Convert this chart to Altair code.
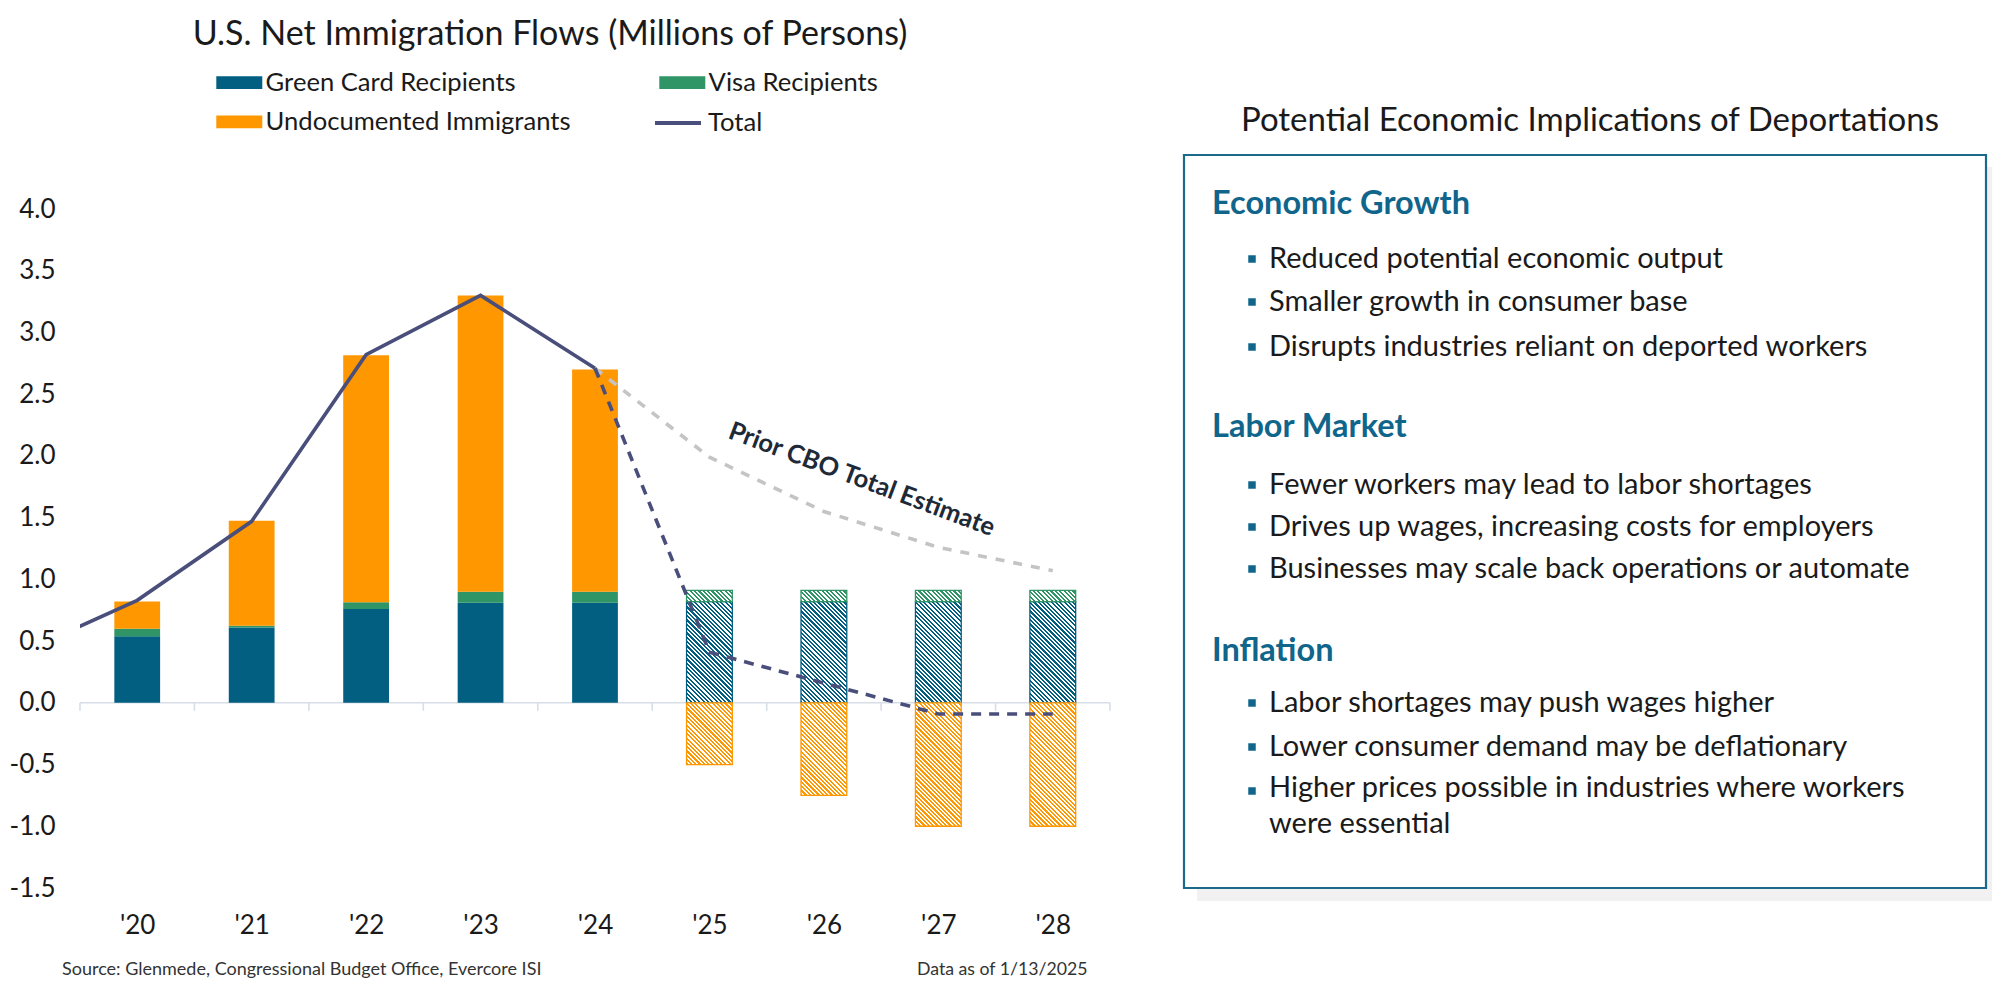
import json
import altair as alt
import pandas as pd

# ---------------- data ----------------
years = ["'20", "'21", "'22", "'23", "'24", "'25", "'26", "'27", "'28"]
green_card = [0.54, 0.61, 0.76, 0.81, 0.81, 0.82, 0.82, 0.82, 0.82]
visa = [0.06, 0.015, 0.055, 0.09, 0.09, 0.09, 0.09, 0.09, 0.09]
undocumented = [0.22, 0.85, 2.00, 2.40, 1.80, -0.50, -0.75, -1.00, -1.00]
projected = [False, False, False, False, False, True, True, True, True]

total_actual_idx = [-1, 0, 1, 2, 3, 4]          # line enters from the left edge
total_actual = [0.41, 0.83, 1.47, 2.82, 3.30, 2.71]
total_proj_idx = [4, 5, 6, 7, 8]
total_projected = [2.71, 0.41, 0.16, -0.09, -0.09]
prior_cbo = [2.71, 1.99, 1.55, 1.26, 1.07]

bar_series = ["Green Card Recipients", "Visa Recipients", "Undocumented Immigrants"]
bar_colors = ["#035f82", "#2f9566", "#fe9700"]
total_name = "Total"
total_color = "#4a4e7b"
cbo_color = "#c4c4c4"
y_ticks = [-1.5, -1.0, -0.5, 0.0, 0.5, 1.0, 1.5, 2.0, 2.5, 3.0, 3.5, 4.0]

chart_title = "U.S. Net Immigration Flows (Millions of Persons)"
annotation = "Prior CBO Total Estimate"
source_note = "Source: Glenmede, Congressional Budget Office, Evercore ISI"
date_note = "Data as of 1/13/2025"

panel_title = "Potential Economic Implications of Deportations"
panel_sections = [
    ("Economic Growth", ["Reduced potential economic output",
                         "Smaller growth in consumer base",
                         "Disrupts industries reliant on deported workers"]),
    ("Labor Market", ["Fewer workers may lead to labor shortages",
                      "Drives up wages, increasing costs for employers",
                      "Businesses may scale back operations or automate"]),
    ("Inflation", ["Labor shortages may push wages higher",
                   "Lower consumer demand may be deflationary",
                   "Higher prices possible in industries where workers\nwere essential"]),
]

# ---------------- layout ----------------
FONT = "Lato"
VIEW_W, VIEW_H = 1030, 679
PAD_L, PAD_T = 72, 201
PAD_R = 1984 - PAD_L - VIEW_W
PAD_B = 970 - PAD_T - VIEW_H
X_DOM = [-0.5, 8.5]
Y_DOM = [-1.5, 4.0]
PX_X = VIEW_W / (X_DOM[1] - X_DOM[0])
PX_Y = VIEW_H / (Y_DOM[1] - Y_DOM[0])
HALF_BAR = 0.2
TEXT = "#1a1a1a"
TEAL = "#10658b"

xs = alt.Scale(domain=X_DOM, nice=False, zero=False)
ys = alt.Scale(domain=Y_DOM, nice=False, zero=False)

y_label_expr = "datum.value < 0 ? '-' + format(-datum.value, '.1f') : format(datum.value, '.1f')"
x_label_expr = json.dumps(years) + "[round(datum.value)]"
x_axis = alt.Axis(values=list(range(len(years))), labelExpr=x_label_expr, title=None,
                  grid=False, domain=False, ticks=False, tickSize=0, labelPadding=37,
                  labelBaseline="middle", labelFont=FONT, labelFontSize=26, labelColor=TEXT)
y_axis = alt.Axis(values=y_ticks, labelExpr=y_label_expr, title=None, grid=False,
                  domain=False, ticks=False, tickSize=0, labelPadding=25, labelFont=FONT,
                  labelFontSize=26, labelColor=TEXT)


def X(field):
    return alt.X(field, scale=xs, axis=x_axis)


def Y(field):
    return alt.Y(field, scale=ys, axis=y_axis)


# ---------------- stacked segments ----------------
rows = []
for i, yr in enumerate(years):
    g, v, u = green_card[i], visa[i], undocumented[i]
    segs = [(bar_series[0], 0.0, g), (bar_series[1], g, g + v)]
    if u >= 0:
        segs.append((bar_series[2], g + v, g + v + u))
    else:
        segs.append((bar_series[2], 0.0, u))
    for name, a, b in segs:
        rows.append({"i": i, "year": yr, "series": name, "y0": a, "y1": b,
                     "x0": i - HALF_BAR, "x1": i + HALF_BAR, "proj": projected[i]})
bars = pd.DataFrame(rows)
solid = bars[~bars["proj"]]
hatched = bars[bars["proj"]]

# legend swatch: 46 x 12.6 px rectangle drawn with a 23px symbol box
fill_legend = alt.Legend(
    orient="none", legendX=135, legendY=-139.5, columns=2, direction="horizontal",
    title=None, labelFont=FONT, labelFontSize=25.6, labelColor=TEXT, labelLimit=0,
    labelOffset=25, symbolType="M-1,-0.55H3V0.55H-1Z", symbolSize=529,
    symbolStrokeWidth=0, symbolOpacity=1, columnPadding=87, rowPadding=12.5,
)
stroke_legend = alt.Legend(
    orient="none", legendX=573, legendY=-111, title=None,
    labelFont=FONT, labelFontSize=25.6, labelColor=TEXT, labelLimit=0, labelOffset=5,
    symbolType="stroke", symbolSize=2116, symbolStrokeWidth=3.8, symbolOpacity=1,
)

solid_layer = alt.Chart(solid).mark_bar(strokeWidth=0).encode(
    x=X("x0:Q"), x2="x1:Q", y=Y("y0:Q"), y2="y1:Q",
    fill=alt.Fill("series:N", scale=alt.Scale(domain=bar_series, range=bar_colors),
                  legend=fill_legend),
)


def hatch(color, w, h, period=4.3, duty=0.5):
    n = max(1, int(round((w + h) / period)))
    stops = []
    for k in range(n):
        a, b, c = k / n, (k + duty) / n, (k + 1) / n
        stops += [{"offset": a, "color": color}, {"offset": b, "color": color},
                  {"offset": b, "color": "#ffffff"}, {"offset": c, "color": "#ffffff"}]
    s = (w + h) / (w * w + h * h)
    return {"gradient": "linear", "x1": 0, "y1": 1, "x2": s * w, "y2": 1 - s * h, "stops": stops}


hatch_layers = []
for _, r in hatched.iterrows():
    col = bar_colors[bar_series.index(r["series"])]
    w = 2 * HALF_BAR * PX_X
    h = abs(r["y1"] - r["y0"]) * PX_Y
    hatch_layers.append(
        alt.Chart(pd.DataFrame([r])).mark_bar(fill=hatch(col, w, h), stroke=col, strokeWidth=1.3)
        .encode(x=X("x0:Q"), x2="x1:Q", y=Y("y0:Q"), y2="y1:Q")
    )

# zero line and category-boundary ticks
zero_df = pd.DataFrame({"x0": [X_DOM[0]], "x1": [X_DOM[1]], "y": [0.0]})
zero_line = alt.Chart(zero_df).mark_rule(color="#d8dee6", strokeWidth=1.6).encode(
    x=X("x0:Q"), x2="x1:Q", y=Y("y:Q"))
tick_df = pd.DataFrame({"x": [k - 0.5 for k in range(len(years) + 1)], "y0": 0.0,
                        "y1": -8 / PX_Y})
tick_marks = alt.Chart(tick_df).mark_rule(color="#d8dee6", strokeWidth=1.6).encode(
    x=X("x:Q"), y=Y("y0:Q"), y2="y1:Q")

# lines
act_df = pd.DataFrame({"x": total_actual_idx, "v": total_actual, "s": total_name})
proj_df = pd.DataFrame({"x": total_proj_idx, "v": total_projected})
cbo_df = pd.DataFrame({"x": total_proj_idx, "v": prior_cbo})
line_actual = alt.Chart(act_df).mark_line(strokeWidth=3.6, clip=True).encode(
    x=X("x:Q"), y=Y("v:Q"),
    stroke=alt.Stroke("s:N", scale=alt.Scale(domain=[total_name], range=[total_color]),
                      legend=stroke_legend))
line_proj = alt.Chart(proj_df).mark_line(color=total_color, strokeWidth=3.6,
                                         strokeDash=[10, 8]).encode(x=X("x:Q"), y=Y("v:Q"))
line_cbo = alt.Chart(cbo_df).mark_line(color=cbo_color, strokeWidth=3.6,
                                       strokeDash=[9, 9]).encode(x=X("x:Q"), y=Y("v:Q"))


def txt(s, x, y, size, color=TEXT, weight="normal", align="left", baseline="middle", angle=0,
        line_height=35):
    props = dict(x=x, y=y, fontSize=size, font=FONT, fontWeight=weight, color=color,
                 align=align, baseline=baseline)
    if angle:
        props["angle"] = angle
    if "\n" in s:
        props["lineBreak"] = "\n"
        props["lineHeight"] = line_height
    return alt.Chart(pd.DataFrame({"t": [s]})).mark_text(**props).encode(text="t:N")


def ox(px):  # page x -> view x
    return px - 8 - PAD_L


def oy(py):  # page y -> view y
    return py - 8 - PAD_T


texts = [
    txt(chart_title, ox(550), oy(35), 34, align="center"),
    txt(annotation, ox(859), oy(487), 25.5, color="#1e2a38", weight="bold", align="center",
        baseline="alphabetic", angle=20.5),
    txt(source_note, ox(62), oy(970), 18, color="#333333"),
    txt(date_note, ox(917), oy(970), 17.7, color="#333333"),
    txt(panel_title, ox(1590), oy(121), 33, align="center"),
]

# right panel box + shadow
box_df = pd.DataFrame({"k": [0]})
shadow = alt.Chart(box_df).mark_rect(fill="#f1f1f1").encode(
    x=alt.value(ox(1197)), x2=alt.value(ox(2000)), y=alt.value(oy(167)), y2=alt.value(oy(901)))
box = alt.Chart(box_df).mark_rect(fill="#ffffff", stroke="#1b6a8c", strokeWidth=2.2).encode(
    x=alt.value(ox(1184)), x2=alt.value(ox(1986)), y=alt.value(oy(155)), y2=alt.value(oy(888)))

heading_y = [204, 427, 651]
bullet_y = [[259, 302, 347], [485, 527, 569], [703, 747, 791]]
panel_layers = []
for (head, items), hy, bys in zip(panel_sections, heading_y, bullet_y):
    panel_layers.append(txt(head, ox(1212), oy(hy), 32.5, color=TEAL, weight="bold"))
    for item, by in zip(items, bys):
        panel_layers.append(
            alt.Chart(box_df).mark_square(size=56, color=TEAL, opacity=1).encode(
                x=alt.value(ox(1252)), y=alt.value(oy(by))))
        if "\n" in item:
            panel_layers.append(txt(item, ox(1269), oy(by) - 17, 29, baseline="top",
                                    line_height=36))
        else:
            panel_layers.append(txt(item, ox(1269), oy(by), 29))

chart = alt.layer(
    shadow, box, zero_line, tick_marks, solid_layer, *hatch_layers,
    line_cbo, line_proj, line_actual, *texts, *panel_layers,
).properties(
    width=VIEW_W, height=VIEW_H,
    autosize=alt.AutoSizeParams(type="none"),
    padding={"left": PAD_L, "top": PAD_T, "right": PAD_R, "bottom": PAD_B},
).configure_view(stroke=None)

chart.save("out.html", embed_options={"renderer": "svg", "actions": False})
